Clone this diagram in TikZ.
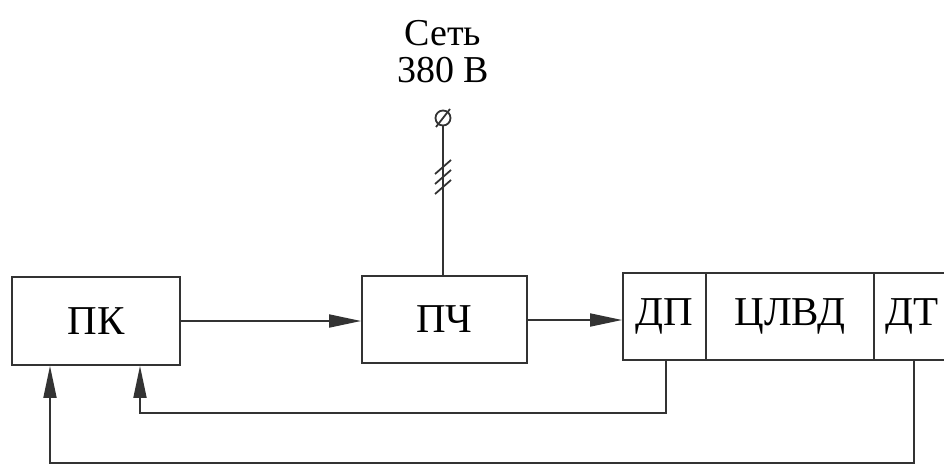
\documentclass[tikz,border=0pt]{standalone}
\usepackage{fontspec}
\setmainfont{Liberation Serif}
\usetikzlibrary{arrows.meta,calc}
\begin{document}
\begin{tikzpicture}[x=1pt,y=-1pt,
  ln/.style={line width=1.8pt,draw=black!80},
  blk/.style={ln,rectangle,inner sep=0pt,font=\fontsize{41}{44}\selectfont},
  arr/.style={ln,-{Triangle[length=32pt,width=13pt]}},
  lbl/.style={font=\fontsize{38}{40}\selectfont,inner sep=0pt}]
\useasboundingbox (0,0) rectangle (944,466);
\clip (0,0) rectangle (944,466);
\node[blk,minimum width=168pt,minimum height=88pt] (pk) at (96,321) {ПК};
\node[blk,minimum width=165pt,minimum height=87pt] (pch) at (444.5,319.5) {ПЧ};
\node[blk,minimum width=83pt,minimum height=87pt] (dp) at (664.5,316.5) {ДП};
\node[blk,minimum width=168pt,minimum height=87pt] (clvd) at (790,316.5) {ЦЛВД};
\node[blk,minimum width=76pt,minimum height=87pt] (dt) at (912,316.5) {ДТ};
\node[lbl,anchor=base] (set) at (443,45) {Сеть};
\node[lbl,anchor=base] (v) at (443,82) {380 В};
\node[ln,circle,minimum size=15pt,inner sep=0pt] (term) at (443,118) {};
\draw[ln] ($(term.center)+(-7,9)$) -- ($(term.center)+(7,-9)$);
\draw[ln] (term.south) -- (term.south |- pch.north);
\foreach \yy in {167,177,187}
  \draw[ln] (435,\yy+7) -- (451,\yy-7);
\draw[arr] (pk.east |- 0,321) -- (pch.west |- 0,321);
\draw[arr] (pch.east |- 0,320) -- (dp.west |- 0,320);
\coordinate (c1) at (666,413);
\coordinate (c2) at (140,413);
\draw[arr] (c1 |- dp.south) -- (c1) -- (c2) -- (c2 |- pk.south);
\coordinate (c3) at (914,463);
\coordinate (c4) at (50,463);
\draw[arr] (c3 |- dt.south) -- (c3) -- (c4) -- (c4 |- pk.south);
\end{tikzpicture}
\end{document}
